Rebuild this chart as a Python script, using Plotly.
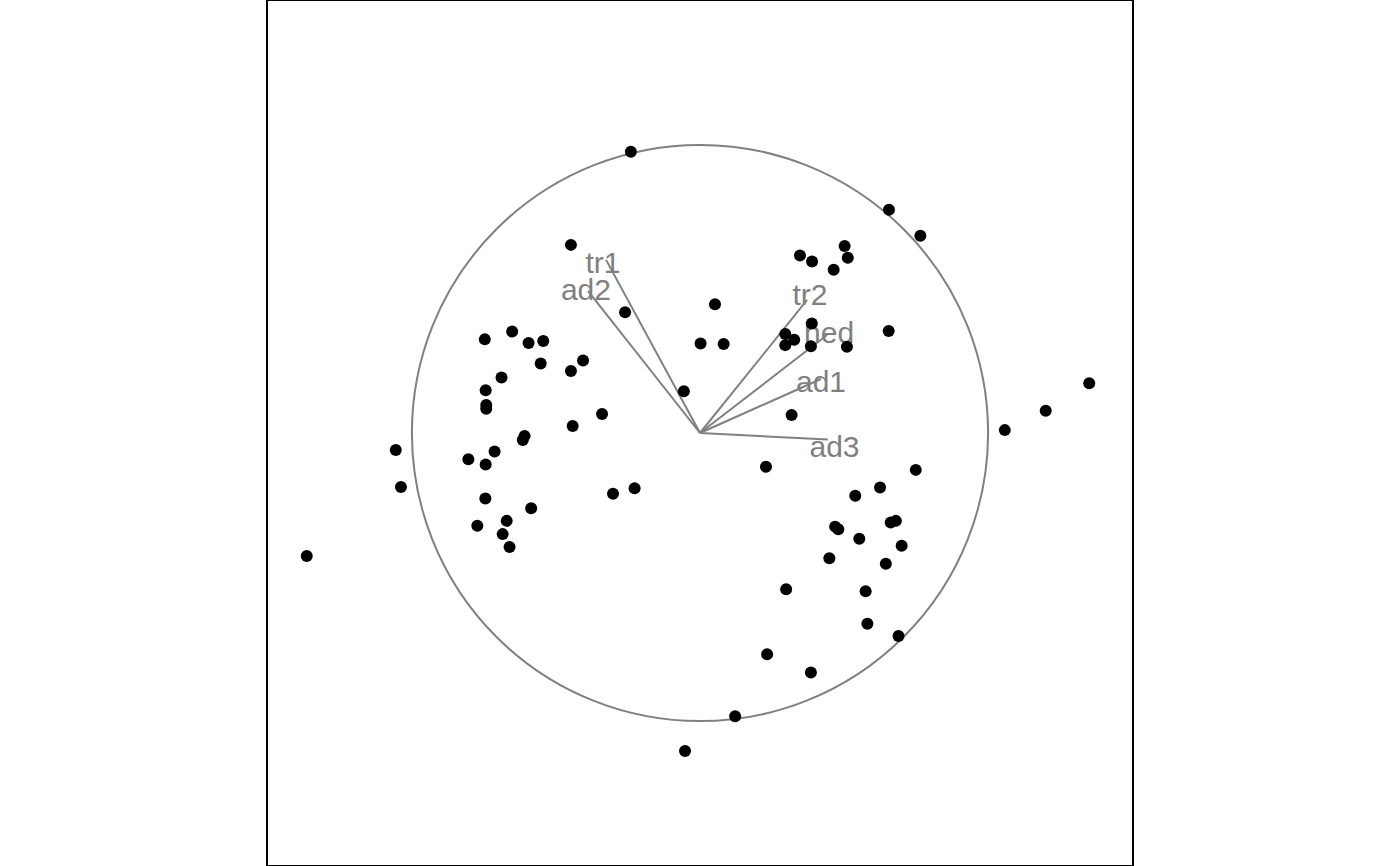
import plotly.graph_objects as go

# Observation scores (scaled so the correlation circle has radius 1)
score_x = [-0.240, 0.656, 0.765, -0.448, 0.502, 0.347, 0.389, 0.513, 0.464, 0.052,
           -0.260, 0.655, -0.652, -0.747, -0.595, -0.544, 0.002, 0.082, 0.296, 0.388,
           0.327, 0.296, 0.385, 0.510, -0.406, -0.553, -0.448, -0.689, -0.056, -0.744,
           -0.742, -0.742, 0.318, -0.340, -0.442, 1.351, 1.200, 1.058, -0.609, -0.615,
           -1.056, -0.713, -0.804, -0.744, 0.229, 0.749, -1.038, 0.625, -0.227, -0.302,
           0.539, -0.745, -0.586, -0.671, -0.773, 0.469, 0.480, 0.680, 0.662, 0.553,
           -0.685, -0.661, 0.700, 0.449, -1.365, 0.645, 0.299, 0.575, 0.581, 0.689,
           0.233, 0.385, 0.122, -0.052]
score_y = [0.976, 0.775, 0.685, 0.653, 0.649, 0.616, 0.595, 0.608, 0.567, 0.447,
           0.419, 0.354, 0.352, 0.325, 0.3125, 0.319, 0.311, 0.309, 0.344, 0.380,
           0.324, 0.305, 0.301, 0.299, 0.252, 0.241, 0.215, 0.193, 0.145, 0.148,
           0.097, 0.084, 0.0625, 0.066, 0.024, 0.173, 0.077, 0.010, -0.010, -0.024,
           -0.059, -0.064, -0.091, -0.109, -0.117, -0.128, -0.1875, -0.189, -0.192, -0.211,
           -0.218, -0.227, -0.261, -0.305, -0.322, -0.325, -0.334, -0.305, -0.311, -0.367,
           -0.351, -0.396, -0.391, -0.435, -0.427, -0.454, -0.542, -0.549, -0.662, -0.705,
           -0.768, -0.831, -0.983, -1.104]

# Variable loadings (arrow tips) and label positions
var_names = ["tr1", "ad2", "tr2", "hed", "ad1", "ad3"]
load_x = [-0.326, -0.389, 0.372, 0.441, 0.420, 0.444]
load_y = [0.601, 0.493, 0.462, 0.340, 0.1875, -0.0226]
label_x = [-0.337, -0.396, 0.382, 0.448, 0.420, 0.467]
label_y = [0.583, 0.486, 0.472, 0.338, 0.170, -0.056]

GRAY = "#808080"
FONT = "Liberation Sans, Arial, Helvetica, sans-serif"

seg_x, seg_y = [], []
for lx, ly in zip(load_x, load_y):
    seg_x += [0, lx, None]
    seg_y += [0, ly, None]

fig = go.Figure()
fig.add_trace(go.Scatter(x=seg_x, y=seg_y, mode="lines",
                         line=dict(color=GRAY, width=2), hoverinfo="skip"))
fig.add_trace(go.Scatter(x=label_x, y=label_y, mode="text", text=var_names,
                         textposition="middle center",
                         textfont=dict(family=FONT, size=30, color=GRAY)))
fig.add_trace(go.Scatter(x=score_x, y=score_y, mode="markers",
                         marker=dict(color="black", size=12, line=dict(width=0))))

fig.add_shape(type="circle", xref="x", yref="y", x0=-1, y0=-1, x1=1, y1=1,
              line=dict(color=GRAY, width=2), layer="below")
fig.add_shape(type="rect", xref="paper", yref="paper", x0=0, y0=0, x1=1, y1=1,
              line=dict(color="black", width=2), layer="above")

ax = dict(range=[-1.503, 1.503], showgrid=False, zeroline=False, showticklabels=False,
          ticks="", showline=False, fixedrange=True)
fig.update_layout(width=1400, height=866, margin=dict(l=267, r=267, t=0, b=0),
                  paper_bgcolor="white", plot_bgcolor="white", showlegend=False,
                  xaxis=ax, yaxis=ax)
fig.write_html("out.html")
